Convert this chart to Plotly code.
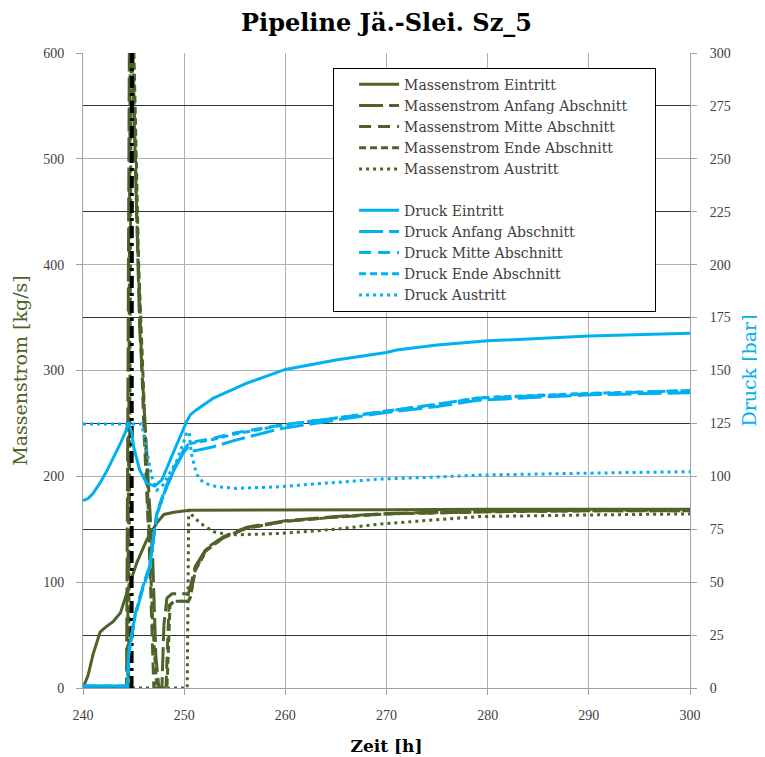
import plotly.graph_objects as go

# ---------------- data ----------------
# Massenstrom [kg/s] (left axis)
t_m_ein = [240, 240.5, 241, 241.4, 241.7, 242.3, 243, 243.7, 244.5, 245.3, 246.3, 247.3, 248, 249, 250.5, 255, 260, 270, 280, 290, 300]
m_ein = [0, 12, 32, 45, 53, 58, 63, 71, 95, 118, 140, 156, 164, 166, 168, 168, 168, 168.5, 169, 169, 169]

t_m_anf = [240, 244.3, 244.45, 244.6, 245.0, 245.6, 246.3, 246.9, 247.2, 247.5, 247.8, 248.0, 248.3, 248.8, 250.4, 250.6, 251.1, 252.2, 253.9, 256.2, 260, 265, 270, 280, 290, 300]
m_anf = [0, 0, 300, 650, 560, 340, 220, 120, 30, 0, 0, 60, 85, 89, 89, 95, 115, 132, 143, 152, 158, 162, 165, 167, 168, 168]

t_m_mit = [240, 244.4, 244.55, 244.7, 245.3, 246.0, 246.6, 247.0, 248.2, 248.5, 249, 250.4, 250.6, 251.1, 252.2, 253.9, 256.2, 260, 265, 270, 280, 290, 300]
m_mit = [0, 0, 300, 700, 450, 250, 120, 0, 0, 78, 82, 82, 86, 112, 131, 142, 151, 157.5, 161.5, 164.5, 166.5, 167.5, 167.5]

t_m_end = [240, 244.5, 244.65, 244.8, 245.5, 246.3, 246.9, 247.3, 248.3, 248.6, 249, 250.4, 250.6, 251.1, 252.2, 253.9, 256.2, 260, 265, 270, 280, 290, 300]
m_end = [0, 0, 300, 700, 400, 200, 60, 0, 0, 78, 82, 82, 85, 111, 130, 142, 151, 157.5, 161.5, 164.5, 166.5, 167.5, 167.5]

t_m_aus = [240, 250.3, 250.45, 250.6, 251.6, 252.9, 254.5, 257, 259.5, 265, 269.4, 275, 279.2, 290, 300]
m_aus = [0, 0, 168, 165, 155.6, 147.7, 144.6, 145, 146, 150, 155, 159, 162, 163.5, 164.5]

t_spike = [244.8, 244.85]
m_spike = [0, 900]

# Druck [bar] (right axis)
t_p_ein = [240, 240.5, 241, 241.7, 242.3, 243, 243.7, 244.2, 244.5, 244.8, 245, 245.6, 246.3, 247.1, 247.8, 248.9, 250.25, 250.6, 251.1, 252.9, 256.2, 260, 265, 270, 271, 275, 280, 290, 300]
p_ein = [88.5, 89.5, 92, 97, 102, 108.5, 115.6, 121, 125.5, 121, 114, 103, 96.7, 95.4, 98.3, 110.9, 126, 129, 131, 137, 144, 150.5, 155, 158.5, 159.7, 162, 164, 166.3, 167.6]

t_p_anf = [240, 244.4, 244.5, 245.1, 245.8, 246.6, 247.3, 248.1, 249, 249.9, 250.4, 251, 252.9, 255, 259.5, 265, 269.4, 275, 279.2, 290, 300]
p_anf = [1, 1, 15, 33, 45, 57, 82, 93, 103, 111, 114, 112, 114, 117, 122.5, 126.5, 129.8, 133, 136, 138.5, 139.5]

t_p_mit = [240, 244.4, 244.5, 245.1, 245.8, 246.6, 247.3, 248.1, 249, 249.9, 250.4, 250.6, 252.9, 255, 259.5, 265, 269.4, 275, 279.2, 290, 300]
p_mit = [1, 1, 16, 34, 46, 58, 83, 94, 104, 112, 115, 116, 118, 120.5, 124.2, 127.5, 130.5, 134, 137, 139, 140.5]

t_p_end = [240, 244.4, 244.5, 245.1, 245.8, 246.6, 247.3, 248.1, 249, 249.9, 250.4, 250.6, 252.9, 255, 259.5, 265, 269.4, 275, 279.2, 290, 300]
p_end = [1, 1, 15, 33, 46, 58, 82, 93, 103, 111.5, 114.5, 115.5, 117.5, 120, 124, 127.5, 130.5, 134, 137.2, 139.2, 140.5]

t_p_aus = [240, 245.8, 246.3, 246.8, 247.3, 247.9, 249.3, 250.25, 250.5, 250.7, 251.2, 251.6, 252.2, 253.2, 255.2, 259.5, 264, 269.4, 275, 279.2, 290, 300]
p_aus = [124.7, 124.7, 112.4, 99.8, 93.5, 95.9, 107.7, 120.3, 121.1, 110.9, 101.4, 98.3, 96.5, 95.1, 94.3, 95.1, 96.8, 98.7, 99.7, 100.6, 101.5, 102.2]

mass_names = ["Massenstrom Eintritt", "Massenstrom Anfang Abschnitt", "Massenstrom Mitte Abschnitt",
              "Massenstrom Ende Abschnitt", "Massenstrom Austritt"]
press_names = ["Druck Eintritt", "Druck Anfang Abschnitt", "Druck Mitte Abschnitt",
               "Druck Ende Abschnitt", "Druck Austritt"]

# dark horizontal grid lines of the pressure axis (between the light mass-flow grid lines)
dark_grid_bar = [25, 75, 125, 175, 225, 275]

# ---------------- style ----------------
GREEN = "#4F6228"
BLUE = "#00B0F0"
FONT = "Liberation Serif"
FONT2 = "DejaVu Serif"
dashes = ["solid", "24px,6px", "12px,7px", "7px,4px", "3px,4px"]
PAD = "\u00a0" * 5  # right padding inside the legend box

fig = go.Figure()

# empty trace that anchors the helper axis carrying the dark grid lines
fig.add_trace(go.Scatter(x=[], y=[], yaxis="y3", showlegend=False, hoverinfo="skip"))

mass_sets = [(t_m_ein, m_ein), (t_m_anf, m_anf), (t_m_mit, m_mit), (t_m_end, m_end), (t_m_aus, m_aus)]
for (tx, my), name, d in zip(mass_sets, mass_names, dashes):
    fig.add_trace(go.Scatter(x=tx, y=my, name=name + PAD, mode="lines", legendgroup="m",
                             line=dict(color=GREEN, width=3, dash=d), yaxis="y"))

fig.add_trace(go.Scatter(x=t_spike, y=m_spike, mode="lines", showlegend=False,
                         line=dict(color="black", width=4, dash="12px,5px,3px,5px"), yaxis="y"))

press_sets = [(t_p_ein, p_ein), (t_p_anf, p_anf), (t_p_mit, p_mit), (t_p_end, p_end), (t_p_aus, p_aus)]
for (tx, py), name, d in zip(press_sets, press_names, dashes):
    fig.add_trace(go.Scatter(x=tx, y=py, name=name, mode="lines", legendgroup="p",
                             line=dict(color=BLUE, width=3, dash=d), yaxis="y2"))

axis_common = dict(zeroline=False, showline=True, linecolor="#a0a0a0", ticks="outside", ticklen=6,
                   tickcolor="#a0a0a0", tickfont=dict(family=FONT, size=14, color="#404040"),
                   automargin=False)

fig.update_layout(
    width=757, height=749,
    margin=dict(l=75, r=75, t=45, b=69),
    paper_bgcolor="white", plot_bgcolor="white",
    font=dict(family=FONT, size=14, color="#404040"),
    title=dict(text="<b>Pipeline Jä.-Slei. Sz_5</b>", x=0.5, xanchor="center",
               y=0.981, yanchor="middle", font=dict(family=FONT2, size=24, color="black")),
    xaxis=dict(range=[240, 300], dtick=10, showgrid=True, gridcolor="#b0b0b0", gridwidth=1,
               ticklabelstandoff=8,
               title=dict(text="<b>Zeit [h]</b>", font=dict(family=FONT2, size=17, color="black"), standoff=18),
               **axis_common),
    yaxis=dict(range=[0, 600], dtick=100, showgrid=True, gridcolor="#b0b0b0", gridwidth=1,
               ticklabelstandoff=9,
               title=dict(text="Massenstrom [kg/s]", font=dict(family=FONT2, size=19, color=GREEN), standoff=10),
               **axis_common),
    yaxis2=dict(range=[0, 300], dtick=25, overlaying="y", side="right", showgrid=False,
                ticklabelstandoff=10,
                title=dict(text="Druck [bar]", font=dict(family=FONT2, size=19, color=BLUE), standoff=12),
                **axis_common),
    yaxis3=dict(range=[0, 300], overlaying="y", side="right", tickmode="array", tickvals=dark_grid_bar,
                showticklabels=False, ticks="", showgrid=True, gridcolor="#333333", gridwidth=1,
                zeroline=False, showline=False, automargin=False),
    legend=dict(x=0.412, y=0.977, xanchor="left", yanchor="top", bgcolor="white",
                bordercolor="black", borderwidth=1, traceorder="grouped", tracegroupgap=20,
                itemwidth=40, indentation=20, font=dict(family=FONT2, size=14, color="#404040")),
    showlegend=True,
)

fig.write_html("out.html")
